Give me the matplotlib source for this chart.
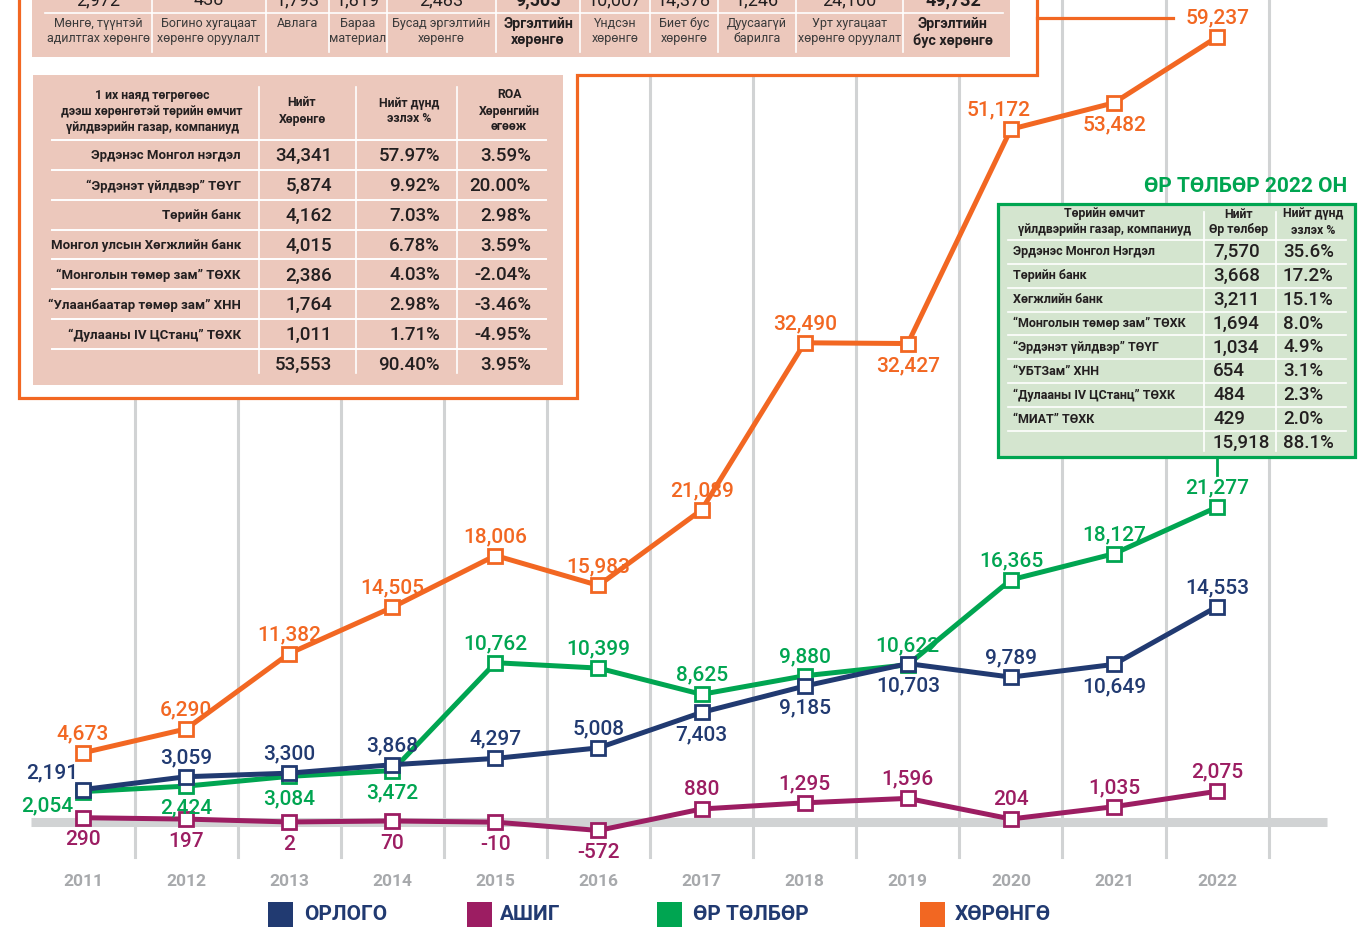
import numpy as np
import matplotlib
matplotlib.use("Agg")
import matplotlib.pyplot as plt
from matplotlib.patches import Rectangle, Polygon
from matplotlib.lines import Line2D
from matplotlib.transforms import Affine2D

plt.rcParams['font.family'] = ['Roboto', 'DejaVu Sans']

# ------------------------------------------------------------------ data
years = [2011, 2012, 2013, 2014, 2015, 2016, 2017, 2018, 2019, 2020, 2021, 2022]
revenue = [2191, 3059, 3300, 3868, 4297, 5008, 7403, 9185, 10703, 9789, 10649, 14553]      # ОРЛОГО
profit = [290, 197, 2, 70, -10, -572, 880, 1295, 1596, 204, 1035, 2075]                     # АШИГ
liabilities = [2054, 2424, 3084, 3472, 10762, 10399, 8625, 9880, 10622, 16365, 18127, 21277]  # ӨР ТӨЛБӨР
assets = [4673, 6290, 11382, 14505, 18006, 15983, 21089, 32490, 32427, 51172, 53482, 59237]   # ХӨРӨНГӨ

legend_labels = ['ОРЛОГО', 'АШИГ', 'ӨР ТӨЛБӨР', 'ХӨРӨНГӨ']

# label placement per point
rev_pos = ['ul', 'a', 'a', 'a', 'a', 'a', 'b', 'b', 'b', 'a', 'b', 'a']
profit_pos = ['b', 'b', 'b', 'b', 'b', 'b', 'a', 'a', 'a', 'a', 'a', 'a']
liab_pos = ['bl', 'b', 'b', 'b', 'a', 'a', 'a', 'a', 'a', 'a', 'a', 'a']
asset_pos = ['a', 'a', 'a', 'a', 'a', 'a', 'a', 'a', 'b', 'al', 'b', 'a']

# top table (asset structure)
top_values = ['2,972', '438', '1,793', '1,819', '2,483', '9,505', '10,007', '14,378', '1,246', '24,100', '49,732']
top_labels = ['Мөнгө, түүнтэй\nадилтгах хөрөнгө', 'Богино хугацаат\nхөрөнгө оруулалт', 'Авлага',
              'Бараа\nматериал', 'Бусад эргэлтийн\nхөрөнгө', 'Эргэлтийн\nхөрөнгө', 'Үндсэн\nхөрөнгө',
              'Биет бус\nхөрөнгө', 'Дуусаагүй\nбарилга', 'Урт хугацаат\nхөрөнгө оруулалт', 'Эргэлтийн\nбус хөрөнгө']
top_bold = [False, False, False, False, False, True, False, False, False, False, True]

# left table (SOEs with assets over 1 trillion)
soe_header = ['1 их наяд төгрөгөөс\nдээш хөрөнгөтэй төрийн өмчит\nүйлдвэрийн газар, компаниуд',
              'Нийт\nХөрөнгө', 'Нийт дүнд\nэзлэх %', 'ROA\nХөрөнгийн\nөгөөж']
soe_names = ['Эрдэнэс Монгол нэгдэл', '“Эрдэнэт үйлдвэр” ТӨҮГ', 'Төрийн банк',
             'Монгол улсын Хөгжлийн банк', '“Монголын төмөр зам” ТӨХК',
             '“Улаанбаатар төмөр зам” ХНН', '“Дулааны IV ЦСтанц” ТӨХК', '']
soe_assets = ['34,341', '5,874', '4,162', '4,015', '2,386', '1,764', '1,011', '53,553']
soe_share = ['57.97%', '9.92%', '7.03%', '6.78%', '4.03%', '2.98%', '1.71%', '90.40%']
soe_roa = ['3.59%', '20.00%', '2.98%', '3.59%', '-2.04%', '-3.46%', '-4.95%', '3.95%']

# right table (liabilities 2022)
debt_title = 'ӨР ТӨЛБӨР 2022 ОН'
debt_header = ['Төрийн өмчит\nүйлдвэрийн газар, компаниуд', 'Нийт\nӨр төлбөр', 'Нийт дүнд\nэзлэх %']
debt_names = ['Эрдэнэс Монгол Нэгдэл', 'Төрийн банк', 'Хөгжлийн банк', '“Монголын төмөр зам” ТӨХК',
              '“Эрдэнэт үйлдвэр” ТӨҮГ', '“УБТЗам” ХНН', '“Дулааны IV ЦСтанц” ТӨХК', '“МИАТ” ТӨХК', '']
debt_values = ['7,570', '3,668', '3,211', '1,694', '1,034', '654', '484', '429', '15,918']
debt_share = ['35.6%', '17.2%', '15.1%', '8.0%', '4.9%', '3.1%', '2.3%', '2.0%', '88.1%']

# ------------------------------------------------------------------ style
C_NAV = '#213A71'
C_PUR = '#9C1D62'
C_GRN = '#00A551'
C_ORG = '#F26722'
C_GRID = '#D1D3D4'
C_PINK = '#ECC8BC'
C_LGRN = '#D4E5CF'
C_TXT = '#231F20'
C_YEAR = '#A7A9AC'

W, H = 1360, 927
fig = plt.figure(figsize=(W / 100, H / 100), dpi=100)
ax = fig.add_axes([0, 0, 1, 1])
ax.axis('off')
PX = Affine2D().scale(1 / W, -1 / H).translate(0, 1) + fig.transFigure

BREAK = 32000.0
RATIO = 0.7725


def fwd(v):
    v = np.asarray(v, dtype=float)
    return np.where(v <= BREAK, v, BREAK + (v - BREAK) * RATIO)


def inv(u):
    u = np.asarray(u, dtype=float)
    return np.where(u <= BREAK, u, BREAK + (u - BREAK) / RATIO)


ax.set_yscale('function', functions=(fwd, inv))
ax.set_xlim(2010.195, 2023.386)
ax.set_ylim(-7095, 62474)


def T(x, y, s, **kw):
    kw.setdefault('color', C_TXT)
    kw.setdefault('zorder', 6)
    return ax.text(x, y, s, transform=PX, **kw)


def L(xs, ys, **kw):
    kw.setdefault('zorder', 5)
    ln = Line2D(xs, ys, transform=PX, **kw)
    ax.add_line(ln)
    return ln


# vertical grid lines
for yr in years:
    ax.axvline(yr + 0.5, ymin=1 - 857 / H, ymax=1, color=C_GRID, lw=2.2, zorder=1)

# zero band
ax.axhline(0, xmin=31 / W, xmax=1327 / W, color=C_GRID, lw=6.5, zorder=2, solid_capstyle='butt')

# orange frame around asset tables
frame = Polygon([(19, -10), (19, 398), (577, 398), (577, 75), (1037, 75), (1037, -10)],
                closed=True, transform=PX, facecolor='white', edgecolor=C_ORG, lw=2.3, zorder=3)
ax.add_patch(frame)
L([1037, 1173], [18, 18], color=C_ORG, lw=2.3, zorder=3)

# ---------------- top table
ax.add_patch(Rectangle((32, -10), 1010 - 32, 57 + 10, transform=PX, facecolor=C_PINK,
                       edgecolor='none', zorder=4))
bounds = [45, 152, 266, 329, 387, 496, 580, 650, 718, 796, 903, 1003]
L([45, 1003], [13, 13], color='white', lw=1.2)
for b in bounds[1:-1]:
    L([b, b], [-5, 52], color='white', lw=1.2)
for i, (val, lab, bold) in enumerate(zip(top_values, top_labels, top_bold)):
    cx = (bounds[i] + bounds[i + 1]) / 2
    T(cx, 0, val, ha='center', va='center', fontsize=13,
      fontweight='bold' if bold else 'normal')
    T(cx, 17, lab, ha='center', va='top', fontsize=10.3 if bold else 9,
      fontweight='bold' if bold else 'normal', linespacing=1.2,
      color=C_TXT if bold else '#3A3A3A')

# ---------------- left table
ax.add_patch(Rectangle((33, 75), 563 - 33, 385 - 75, transform=PX, facecolor=C_PINK,
                       edgecolor='none', zorder=4))
T(152, 111, soe_header[0], ha='center', va='center', fontsize=8.8, fontweight='bold', linespacing=1.3)
T(302, 111, soe_header[1], ha='center', va='center', fontsize=8.8, fontweight='bold', linespacing=1.3)
T(409, 111, soe_header[2], ha='center', va='center', fontsize=8.8, fontweight='bold', linespacing=1.3)
T(509, 111, soe_header[3], ha='center', va='center', fontsize=8.8, fontweight='bold', linespacing=1.3)
for xs in [259, 356, 457]:
    L([xs, xs], [87, 373], color='white', lw=1.2)
rows = np.linspace(156, 365, len(soe_names))
for i, yc in enumerate(rows):
    L([52, 546], [yc - 16, yc - 16], color='white', lw=1.4)
    if soe_names[i]:
        T(241, yc, soe_names[i], ha='right', va='center', fontsize=9.5, fontweight='bold')
    T(332, yc, soe_assets[i], ha='right', va='center', fontsize=13.5, fontweight='medium')
    T(440, yc, soe_share[i], ha='right', va='center', fontsize=13.5, fontweight='medium')
    T(531, yc, soe_roa[i], ha='right', va='center', fontsize=13.5, fontweight='medium')

# ---------------- right (green) table
ax.add_patch(Rectangle((998, 204), 1355 - 998, 457 - 204, transform=PX, facecolor=C_LGRN,
                       edgecolor=C_GRN, lw=2.3, zorder=4))
T(1347, 187, debt_title, ha='right', va='center', fontsize=15, fontweight='bold', color=C_GRN)
T(1105, 222, debt_header[0], ha='center', va='center', fontsize=8.8, fontweight='bold', linespacing=1.3)
T(1239, 222, debt_header[1], ha='center', va='center', fontsize=8.8, fontweight='bold', linespacing=1.3)
T(1313, 222, debt_header[2], ha='center', va='center', fontsize=8.8, fontweight='bold', linespacing=1.3)
for xs in [1204, 1276]:
    L([xs, xs], [212, 451], color='white', lw=1.2)
drows = np.linspace(252, 443, len(debt_names))
for i, yc in enumerate(drows):
    L([1008, 1346], [yc - 12, yc - 12], color='white', lw=1.2)
    if debt_names[i]:
        T(1013, yc, debt_names[i], ha='left', va='center', fontsize=9, fontweight='bold')
    T(1213, yc, debt_values[i], ha='left', va='center', fontsize=13.5, fontweight='medium')
    T(1283, yc, debt_share[i], ha='left', va='center', fontsize=13.5, fontweight='medium')
L([1217, 1217], [457, 475], color=C_GRN, lw=2.0, zorder=4)

# ---------------- lines
OFFS = {'a': (0, 13.7), 'b': (0, -16.0), 'ul': (-22, 12), 'bl': (-26, -10), 'al': (-9, 13.7)}
series = [(profit, C_PUR, profit_pos, 10), (liabilities, C_GRN, liab_pos, 11),
          (revenue, C_NAV, rev_pos, 12), (assets, C_ORG, asset_pos, 13)]
for vals, col, pos, z in series:
    ax.plot(years, vals, color=col, lw=3.6, marker='s', ms=10.5, mfc='white', mec=col,
            mew=2.0, zorder=z)
    for yr, v, p in zip(years, vals, pos):
        dx, dy = OFFS[p]
        ax.annotate(f"{v:,}", (yr, v), xytext=(dx, dy), textcoords='offset points',
                    ha='center', va='center', fontsize=15, color=col, fontweight='medium',
                    zorder=z + 10)

# year labels
for yr in years:
    ax.text(yr, 1 - 881 / H, str(yr), transform=ax.get_xaxis_transform(), ha='center',
            va='center', fontsize=12.5, fontweight='bold', color=C_YEAR)

# legend
leg_sq = [268, 467, 657, 920]
leg_tx = [304, 500, 693, 955]
for sx, tx, lab, col in zip(leg_sq, leg_tx, legend_labels, [C_NAV, C_PUR, C_GRN, C_ORG]):
    ax.add_patch(Rectangle((sx, 902), 25, 25, transform=PX, facecolor=col, edgecolor='none', zorder=5))
    T(tx, 915, lab, ha='left', va='center', fontsize=15, fontweight='bold', color=C_NAV)

fig.savefig('out.png', dpi=100)
